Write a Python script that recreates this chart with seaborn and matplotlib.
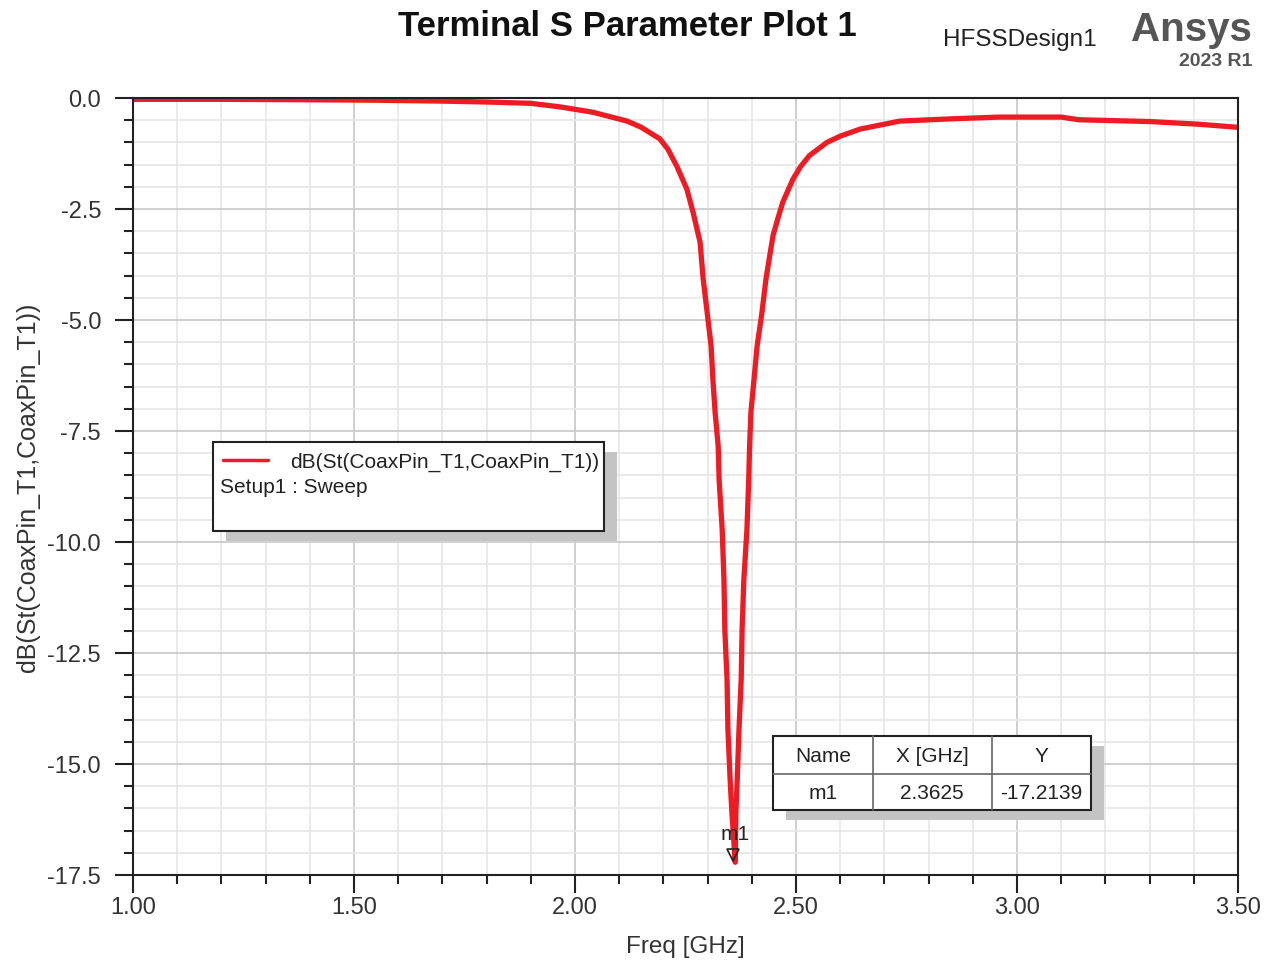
import numpy as np
import pandas as pd
import matplotlib
matplotlib.use("Agg")
import matplotlib.pyplot as plt
import seaborn as sns
from matplotlib.patches import Rectangle
from matplotlib.lines import Line2D
from matplotlib.ticker import MultipleLocator, FormatStrFormatter

# S11 sweep
freq_ghz = [1.00, 1.20, 1.40, 1.55, 1.70, 1.80, 1.90, 1.966, 2.04, 2.118,
            2.15, 2.192, 2.21, 2.23, 2.253, 2.267, 2.283, 2.290, 2.299, 2.308, 2.312,
            2.317, 2.324, 2.326, 2.333, 2.337, 2.339, 2.344, 2.346, 2.351,
            2.355, 2.3625, 2.364, 2.367, 2.371, 2.376, 2.378, 2.382, 2.389,
            2.393, 2.395, 2.398, 2.405, 2.412, 2.423, 2.432, 2.448, 2.46, 2.47,
            2.493, 2.51, 2.53, 2.57, 2.60, 2.645, 2.735, 2.85, 2.96, 3.10, 3.14, 3.30,
            3.41, 3.50]
s11_db = [-0.03, -0.03, -0.04, -0.05, -0.07, -0.09, -0.12, -0.20, -0.32, -0.52,
          -0.66, -0.92, -1.15, -1.53, -2.05, -2.57, -3.25, -4.08, -4.83, -5.59, -6.34,
          -7.08, -7.85, -8.59, -9.72, -10.85, -11.98, -13.10, -14.23, -15.36,
          -16.10, -17.2139, -16.10, -15.36, -14.23, -13.10, -11.98, -10.85, -9.72,
          -8.59, -7.85, -7.08, -6.34, -5.59, -4.83, -4.08, -3.10, -2.68, -2.35,
          -1.83, -1.55, -1.30, -1.00, -0.86, -0.70, -0.52, -0.47, -0.43, -0.43, -0.49, -0.53,
          -0.59, -0.66]

marker_name = "m1"
marker_x = 2.3625
marker_y = -17.2139

trace_label = "dB(St(CoaxPin_T1,CoaxPin_T1))"
setup_label = "Setup1 : Sweep"

df = pd.DataFrame({"Freq": freq_ghz, "dB": s11_db})

sns.set_style("white")
plt.rcParams['font.family'] = ['Liberation Sans', 'DejaVu Sans']

W, H = 1273, 962
fig = plt.figure(figsize=(W / 100, H / 100), dpi=100)


def fx(px):
    return px / W


def fy(py):
    return 1 - py / H


ax = fig.add_axes([fx(133), fy(876), fx(1238) - fx(133), fy(99) - fy(876)])

red = '#ED1C24'
sns.lineplot(data=df, x="Freq", y="dB", ax=ax, color=red, linewidth=3.8,
             sort=False, estimator=None)

ax.set_xlim(1.0, 3.5)
ax.set_ylim(-17.5, 0.0)
ax.xaxis.set_major_locator(MultipleLocator(0.5))
ax.xaxis.set_minor_locator(MultipleLocator(0.1))
ax.yaxis.set_major_locator(MultipleLocator(2.5))
ax.yaxis.set_minor_locator(MultipleLocator(0.5))
ax.xaxis.set_major_formatter(FormatStrFormatter('%.2f'))
ax.yaxis.set_major_formatter(FormatStrFormatter('%.1f'))

ax.grid(which='major', color='#cccccc', linewidth=1.3)
ax.grid(which='minor', color='#e8e8e8', linewidth=1.3)
ax.set_axisbelow(True)

ax.tick_params(axis='both', which='both', bottom=True, left=True, top=False, right=False)
ax.tick_params(axis='both', which='major', direction='out', length=13, width=1.5,
               color='#222222', labelsize=17, labelcolor='#333333')
ax.tick_params(axis='both', which='minor', direction='out', length=6.5, width=1.5,
               color='#222222')
ax.tick_params(axis='y', which='major', pad=10)
ax.tick_params(axis='x', which='major', pad=2)
for sp in ax.spines.values():
    sp.set_visible(True)
    sp.set_color('#222222')
    sp.set_linewidth(1.5)

ax.set_xlabel("Freq [GHz]", fontsize=17.5, color='#333333', labelpad=12)
ax.set_ylabel(trace_label, fontsize=18, color='#333333', labelpad=5)

# marker m1
ax.annotate(marker_name, (marker_x, marker_y), xytext=(0, 21), textcoords='offset points',
            ha='center', va='center', fontsize=15, color='#222222')
ax.plot([marker_x], [marker_y], marker='v', markersize=8, markerfacecolor='none',
        markeredgecolor='#222222', markeredgewidth=1.2, linestyle='none',
        transform=ax.transData + matplotlib.transforms.ScaledTranslation(-2 / 100, 7 / 100, fig.dpi_scale_trans))

# title and branding
fig.text(fx(627), fy(27), "Terminal S Parameter Plot 1", ha='center', va='center',
         fontsize=25, fontweight='bold', color='#111111')
fig.text(fx(1020), fy(40), "HFSSDesign1", ha='center', va='center', fontsize=17.5,
         color='#222222')
fig.text(fx(1252), fy(30), "Ansys", ha='right', va='center', fontsize=29,
         fontweight='bold', color='#555555')
fig.text(fx(1252), fy(62), "2023 R1", ha='right', va='center', fontsize=14,
         fontweight='bold', color='#555555')


def box(x0, y0, x1, y1, shadow=(13, 10)):
    sh = Rectangle((fx(x0 + shadow[0]), fy(y1 + shadow[1])), fx(x1 - x0), fy(y0) - fy(y1),
                   transform=fig.transFigure, facecolor='#c4c4c4', edgecolor='none', zorder=10)
    bx = Rectangle((fx(x0), fy(y1)), fx(x1 - x0), fy(y0) - fy(y1),
                   transform=fig.transFigure, facecolor='white', edgecolor='#222222',
                   linewidth=1.5, zorder=11)
    fig.add_artist(sh)
    fig.add_artist(bx)


# legend box
box(213, 443, 604, 532)
fig.add_artist(Line2D([fx(223), fx(268)], [fy(461), fy(461)], transform=fig.transFigure,
                      color=red, linewidth=2.5, zorder=12))
fig.text(fx(290), fy(462), trace_label, ha='left', va='center', fontsize=15,
         color='#222222', zorder=12)
fig.text(fx(220), fy(488), setup_label, ha='left', va='center', fontsize=15,
         color='#222222', zorder=12)

# marker table
box(773, 737, 1091, 811)
for xs in (873, 992):
    fig.add_artist(Line2D([fx(xs), fx(xs)], [fy(737), fy(811)], transform=fig.transFigure,
                          color='#666666', linewidth=1.2, zorder=12))
fig.add_artist(Line2D([fx(773), fx(1091)], [fy(775), fy(775)], transform=fig.transFigure,
                      color='#666666', linewidth=1.2, zorder=12))
headers = ["Name", "X [GHz]", "Y"]
row = [marker_name, f"{marker_x:.4f}", f"{marker_y:.4f}"]
cx = [823, 932, 1041]
for c, h, r in zip(cx, headers, row):
    fig.text(fx(c), fy(756), h, ha='center', va='center', fontsize=15, color='#222222', zorder=12)
    fig.text(fx(c), fy(794), r, ha='center', va='center', fontsize=15, color='#222222', zorder=12)

fig.savefig("out.png", dpi=100)
